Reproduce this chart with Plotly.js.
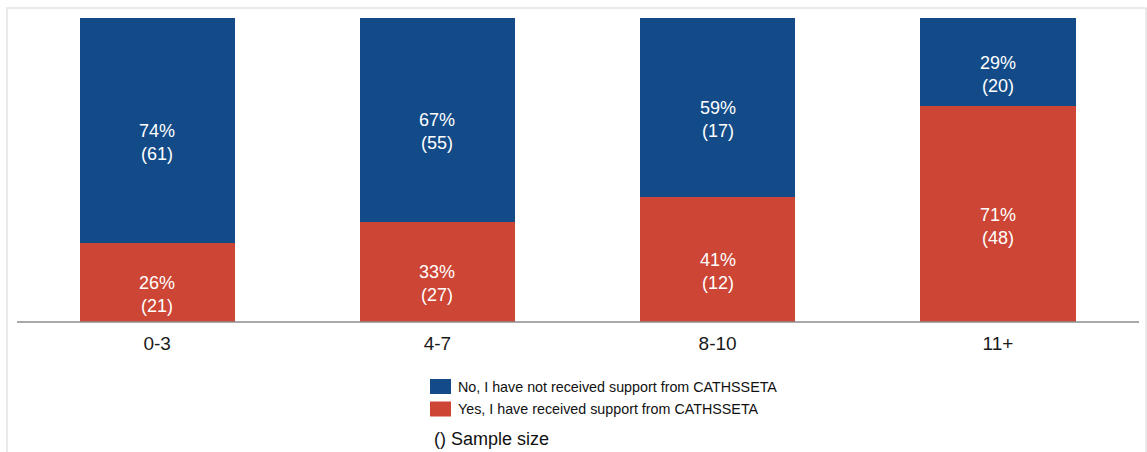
<!DOCTYPE html>
<html>
<head>
<meta charset="utf-8">
<script src="https://cdn.plot.ly/plotly-3.0.1.min.js"></script>
<style>html,body{margin:0;padding:0;background:#fff;}#chart{width:1147px;height:452px;}</style>
</head>
<body>
<div id="chart"></div>
<script>
const categories = ["0-3", "4-7", "8-10", "11+"];
const yesPct = [26, 33, 41, 71];
const yesN = [21, 27, 12, 48];
const noPct = [74, 67, 59, 29];
const noN = [61, 55, 17, 20];
const yesName = "Yes, I have received support from CATHSSETA";
const noName = "No, I have not received support from CATHSSETA";
const noteText = "() Sample size";

const W = 1147, H = 452;
const M = {l: 17, r: 9, t: 18, b: 130};
const pw = W - M.l - M.r, ph = H - M.t - M.b;
const px = v => (v - M.l) / pw;
const py = v => (H - M.b - v) / ph;

const BLUE = "#134B88", RED = "#CC4535";
const font = "Liberation Sans, Arial, sans-serif";

const traces = [
  {type: "bar", name: yesName, x: categories, y: yesPct, marker: {color: RED}, width: 0.554, hoverinfo: "none"},
  {type: "bar", name: noName, x: categories, y: noPct, marker: {color: BLUE}, width: 0.554, hoverinfo: "none"}
];

const annotations = [];
categories.forEach((c, i) => {
  annotations.push({x: c, y: yesPct[i] / 2, xref: "x", yref: "y", text: yesPct[i] + "%<br>(" + yesN[i] + ")",
    showarrow: false, yanchor: "middle", yshift: -12, font: {family: font, size: 18, color: "#ffffff"}});
  annotations.push({x: c, y: yesPct[i] + noPct[i] / 2, xref: "x", yref: "y", text: noPct[i] + "%<br>(" + noN[i] + ")",
    showarrow: false, yanchor: "middle", yshift: -12, font: {family: font, size: 18, color: "#ffffff"}});
});

// custom legend (swatch + label), blue "No" first
const legendItems = [
  {name: noName, color: BLUE, top: 379},
  {name: yesName, color: RED, top: 401.5}
];
const shapes = [
  {type: "line", xref: "paper", yref: "paper", x0: 0, x1: 1.0009, y0: 0, y1: 0, line: {color: "#8c8c8c", width: 1.5}},
  {type: "rect", xref: "paper", yref: "paper", x0: px(7), x1: px(1146), y0: py(8), y1: py(470), line: {color: "#e3e3e3", width: 1.5}, layer: "below"}
];
legendItems.forEach(it => {
  shapes.push({type: "rect", xref: "paper", yref: "paper", x0: px(430), x1: px(451), y0: py(it.top), y1: py(it.top + 15),
    fillcolor: it.color, line: {width: 0}});
  annotations.push({x: px(456), y: py(it.top + 7.5), xref: "paper", yref: "paper", xanchor: "left", yanchor: "middle",
    text: it.name, showarrow: false, font: {family: font, size: 14.3, color: "#111111"}});
});
annotations.push({x: px(432), y: py(439), xref: "paper", yref: "paper", xanchor: "left", yanchor: "middle",
  text: noteText, showarrow: false, font: {family: font, size: 18, color: "#111111"}});

const layout = {
  width: W, height: H,
  margin: M,
  barmode: "stack",
  paper_bgcolor: "#ffffff", plot_bgcolor: "#ffffff",
  font: {family: font, color: "#222222"},
  xaxis: {range: [-0.5, 3.5], showgrid: false, zeroline: false, showline: false, ticks: "", ticklabelstandoff: 8,
    tickfont: {family: font, size: 19, color: "#1a1a1a"}, fixedrange: true},
  yaxis: {range: [0, 100], visible: false, fixedrange: true},
  showlegend: false,
  shapes: shapes,
  annotations: annotations
};

Plotly.newPlot("chart", traces, layout, {displayModeBar: false, staticPlot: true});
</script>
</body>
</html>
